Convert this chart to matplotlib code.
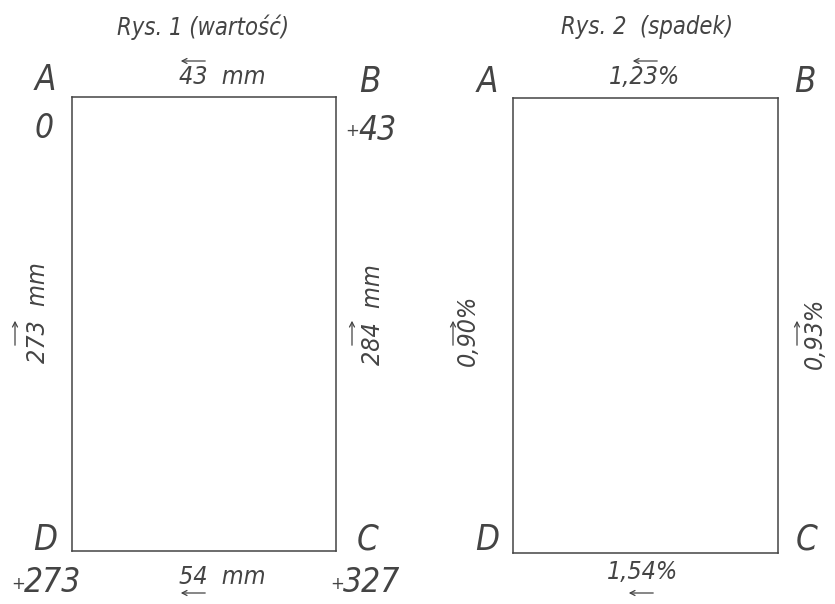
import matplotlib
matplotlib.use("Agg")
import matplotlib.pyplot as plt

W, H = 835, 604

# data
titles = ["Rys. 1 (wartość)", "Rys. 2  (spadek)"]
corners = ["A", "B", "C", "D"]
heights = ["0", "+43", "+327", "+273"]          # A, B, C, D
edge_len = ["43  mm", "284  mm", "54  mm", "273  mm"]  # AB, BC, CD(bottom), DA
edge_slope = ["1,23%", "0,93%", "1,54%", "0,90%"]

INK = "#444444"
FONT = dict(family="DejaVu Sans", style="oblique", stretch="condensed", color=INK)

fig = plt.figure(figsize=(W / 100, H / 100), dpi=100)


def fx(x):
    return x / W


def fy(y):
    return 1 - y / H


def txt(x, y, s, size, rot=0, ha="center"):
    fig.text(fx(x), fy(y), s, fontsize=size, rotation=rot, ha=ha, va="center",
             fontweight="light", **FONT)


def height_label(x_left, y, s, size):
    if s.startswith("+"):
        txt(x_left + 1, y + 1, "+", size * 0.55, ha="right")
        txt(x_left, y, s[1:], size, ha="left")
    else:
        txt(x_left, y, s, size, ha="left")


def arrow(x0, y0, x1, y1):
    fig.add_artist(matplotlib.patches.FancyArrowPatch(
        (fx(x0), fy(y0)), (fx(x1), fy(y1)), transform=fig.transFigure,
        arrowstyle="->,head_length=3.5,head_width=1.8", color=INK, lw=0.9))


rects = [(72, 97, 336, 551), (513, 98, 778, 553)]
for (x0, y0, x1, y1) in rects:
    ax = fig.add_axes([fx(x0), fy(y1), fx(x1 - x0), (y1 - y0) / H])
    ax.set_xticks([]); ax.set_yticks([])
    for s in ax.spines.values():
        s.set_color(INK); s.set_linewidth(1.1)

CS, HS, ES, TS = 25, 24, 18, 17

# panel 1
txt(203, 27, titles[0], TS)
txt(45, 80, corners[0], CS)
txt(370, 82, corners[1], CS)
txt(368, 540, corners[2], CS)
txt(45, 540, corners[3], CS)
height_label(35, 128, heights[0], HS)
height_label(358, 130, heights[1], HS)
height_label(343, 583, heights[2], HS)
height_label(24, 583, heights[3], HS)
txt(222, 77, edge_len[0], ES)
txt(373, 315, edge_len[1], ES, rot=90)
txt(222, 577, edge_len[2], ES)
txt(38, 313, edge_len[3], ES, rot=90)
arrow(208, 61, 178, 61)
arrow(208, 593, 178, 593)
arrow(15, 348, 15, 318)
arrow(352, 348, 352, 318)

# panel 2
txt(647, 27, titles[1], TS)
txt(487, 82, corners[0], CS)
txt(805, 82, corners[1], CS)
txt(807, 540, corners[2], CS)
txt(487, 540, corners[3], CS)
txt(645, 77, edge_slope[0], ES)
txt(815, 333, edge_slope[1], ES, rot=90)
txt(643, 572, edge_slope[2], ES)
txt(468, 330, edge_slope[3], ES, rot=90)
arrow(660, 61, 630, 61)
arrow(656, 593, 626, 593)
arrow(453, 348, 453, 318)
arrow(797, 348, 797, 318)

fig.savefig("out.png", dpi=100, facecolor="white")
